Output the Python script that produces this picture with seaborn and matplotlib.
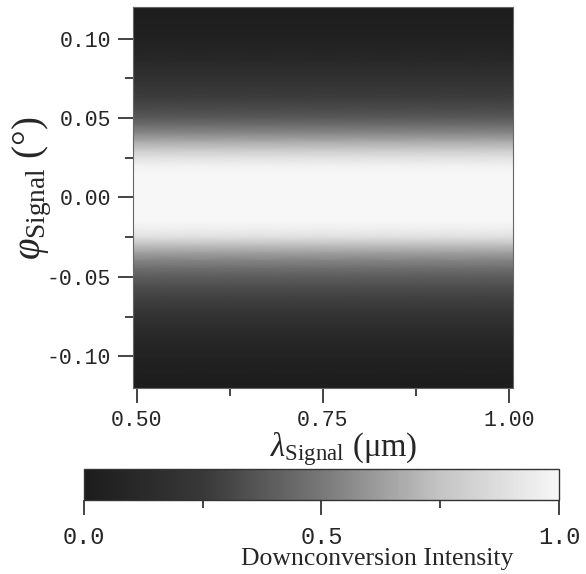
import numpy as np
import pandas as pd
import seaborn as sns
import matplotlib.pyplot as plt
from matplotlib.colors import LinearSegmentedColormap

# signal angle (deg), top row first
phi = [0.120, 0.115, 0.110, 0.105, 0.100, 0.095, 0.090, 0.085, 0.080, 0.075,
       0.070, 0.065, 0.060, 0.055, 0.050, 0.045, 0.040, 0.035, 0.030, 0.025,
       0.020, 0.015, 0.010, 0.005, 0.000, -0.005, -0.010, -0.015, -0.020, -0.025,
       -0.030, -0.035, -0.040, -0.045, -0.050, -0.055, -0.060, -0.065, -0.070, -0.075,
       -0.080, -0.085, -0.090, -0.095, -0.100, -0.105, -0.110, -0.115, -0.120]
# downconversion intensity read along the band (same for every wavelength)
intensity = [0.01, 0.015, 0.025, 0.035, 0.05, 0.065, 0.09, 0.115, 0.15, 0.19,
             0.235, 0.26, 0.29, 0.33, 0.38, 0.47, 0.56, 0.67, 0.78, 0.89,
             0.97, 1.0, 1.0, 1.0, 1.0, 1.0, 1.0, 1.0, 0.955, 0.88,
             0.735, 0.625, 0.535, 0.46, 0.395, 0.345, 0.305, 0.275, 0.24, 0.2,
             0.16, 0.125, 0.10, 0.075, 0.06, 0.04, 0.035, 0.015, 0.01]
# signal wavelength (um), evenly spaced columns
lam = [0.495, 0.580, 0.665, 0.750, 0.835, 0.920, 1.005]

x_ticks = [0.50, 0.75, 1.00]
x_minor = [0.625, 0.875]
y_ticks = [0.10, 0.05, 0.00, -0.05, -0.10]
y_minor = [0.075, 0.025, -0.025, -0.075]
cb_ticks = [0.0, 0.5, 1.0]
cb_minor = [0.25, 0.75]

sns.set_style('ticks')
plt.rcParams['font.family'] = ['Liberation Mono', 'DejaVu Sans Mono']
plt.rcParams['mathtext.fontset'] = 'custom'
plt.rcParams['mathtext.rm'] = 'Liberation Serif'
plt.rcParams['mathtext.it'] = 'Liberation Serif:italic'

df = pd.DataFrame(np.tile(np.array(intensity)[:, None], (1, len(lam))),
                  index=phi, columns=lam)

cmap = LinearSegmentedColormap.from_list(
    'dc', ['#1c1c1c', '#383838', '#787878', '#c4c4c4', '#f7f7f7'])

fig = plt.figure(figsize=(5.86, 5.74), dpi=100)
ax = fig.add_axes([0.227, 0.324, 0.648, 0.664])
cax = fig.add_axes([0.143, 0.129, 0.811, 0.054])

# gouraud shading gives the smooth gradient between rows
sns.heatmap(df, ax=ax, cbar_ax=cax, cmap=cmap, vmin=0, vmax=1,
            shading='gouraud', xticklabels=False, yticklabels=False,
            cbar_kws={'orientation': 'horizontal'})

# map data values to mesh index positions
def xpos(v):
    return (v - lam[0]) / (lam[1] - lam[0])

def ypos(v):
    return (phi[0] - v) / (phi[0] - phi[1])

ax.set_xlim(0, len(lam) - 1)
ax.set_ylim(len(phi) - 1, 0)
ax.set_xticks([xpos(v) for v in x_ticks])
ax.set_xticklabels([f'{v:.2f}' for v in x_ticks])
ax.set_xticks([xpos(v) for v in x_minor], minor=True)
ax.set_yticks([ypos(v) for v in y_ticks])
ax.set_yticklabels([f'{v:.2f}' for v in y_ticks])
ax.set_yticks([ypos(v) for v in y_minor], minor=True)
ax.tick_params(which='major', length=11, width=1.1, labelsize=15.5, color='#111111')
ax.tick_params(axis='x', which='major', pad=5)
ax.tick_params(axis='y', which='major', pad=5)
ax.tick_params(which='minor', length=6, width=1.1, color='#111111')
for s in ax.spines.values():
    s.set_visible(True)
    s.set_linewidth(0.8)
    s.set_color('#666666')
ax.set_xlabel('')
ax.set_ylabel('')

cb = ax.collections[0].colorbar
cb.outline.set_linewidth(1.0)
cb.outline.set_edgecolor('#333333')
cb.set_ticks(cb_ticks)
cb.set_ticklabels([f'{v:.1f}' for v in cb_ticks])
cax.set_xticks(cb_minor, minor=True)
cax.tick_params(which='major', length=11, width=1.1, labelsize=17, pad=8,
                color='#111111')
cax.tick_params(which='minor', length=6, width=1.1, color='#111111')

fig.text(344 / 586, 1 - 456 / 574, r'$\lambda_{\mathrm{Signal}}$ (μm)',
         ha='center', va='baseline', fontsize=23.5, family='Liberation Serif')
fig.text(32 / 586, 1 - 188 / 574, r'$\varphi_{\mathrm{Signal}}$ (°)',
         ha='center', va='center', rotation=90, fontsize=28,
         family='Liberation Serif')
fig.text(377 / 586, 1 - 565 / 574, 'Downconversion Intensity',
         ha='center', va='baseline', fontsize=18.5, family='Liberation Serif')

fig.savefig('out.png', dpi=100)
